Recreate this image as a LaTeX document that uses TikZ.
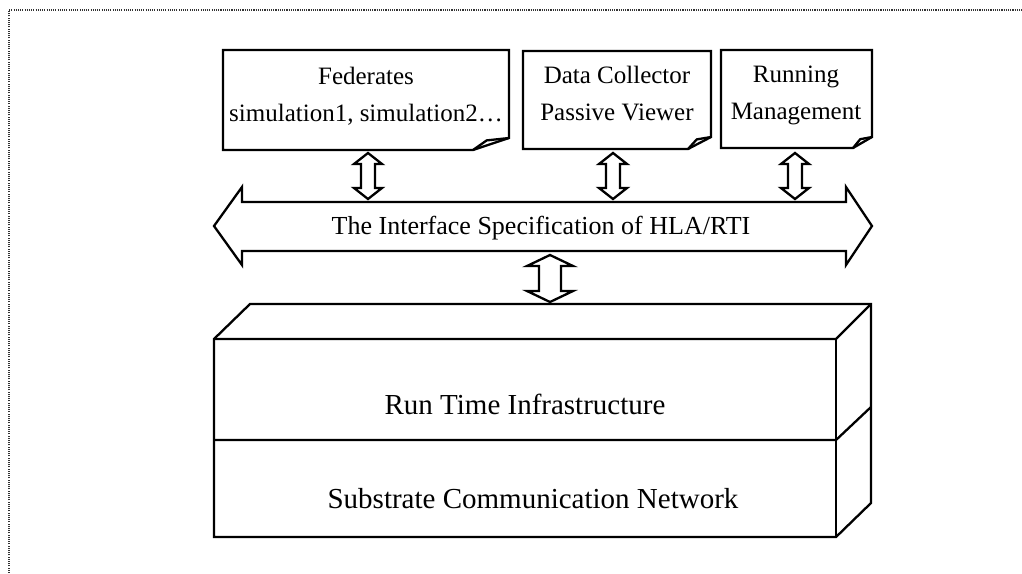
\documentclass[tikz,border=0pt]{standalone}
\usepackage{fontspec}
\setmainfont{Liberation Serif}
\begin{document}
\begin{tikzpicture}[x=1pt,y=-1pt,
  edge/.style={draw=black,line width=2.3pt,line join=miter},
  outline/.style={edge,fill=white},
  frameline/.style={draw=black!80,line width=1.5pt,dash pattern=on 1.1pt off 1.1pt},
  boxtext/.style={align=center,font=\fontsize{25}{37}\selectfont,inner sep=0pt},
  bandtext/.style={font=\fontsize{26}{30}\selectfont,inner sep=0pt},
  layertext/.style={font=\fontsize{29}{34}\selectfont,inner sep=0pt}]
\useasboundingbox (0,0) rectangle (1022,573);

% page frame (top and left edges)
\draw[frameline] (9,573) -- (9,10) -- (1022,10);

% note box with a folded lower-right corner: #1 left, #2 top, #3 right, #4 bottom, #5 fold x, #6 fold y
\newcommand\notebox[6]{%
  \draw[outline] (#1,#2) -- (#3,#2) -- (#3,#6) -- (#5,#4) -- (#1,#4) -- cycle;
  \draw[edge] (#5,#4) -- ({#5+0.38*(#3-#5)},{#6+0.2*(#4-#6)}) -- (#3,#6);}

% vertical double arrow: #1 centre x, #2 top, #3 bottom, #4 head half width, #5 shaft half width, #6 head length
\newcommand\vdarrow[6]{%
  \draw[outline] (#1,#2) -- ({#1+#4},{#2+#6}) -- ({#1+#5},{#2+#6}) -- ({#1+#5},{#3-#6})
    -- ({#1+#4},{#3-#6}) -- (#1,#3) -- ({#1-#4},{#3-#6}) -- ({#1-#5},{#3-#6})
    -- ({#1-#5},{#2+#6}) -- ({#1-#4},{#2+#6}) -- cycle;}

% application boxes
\notebox{223}{50}{509}{150}{473}{138}
\node[boxtext] (fed) at (366,96) {Federates\\simulation1, simulation2…};
\notebox{523}{51}{711}{149}{688}{137}
\node[boxtext] (dc) at (617,94) {Data Collector\\Passive Viewer};
\notebox{721}{50}{872}{148}{853}{137}
\node[boxtext] (rm) at (796,95) {Running\\Management};

% links between the boxes and the interface band
\vdarrow{368}{153}{199}{14}{7}{11}
\vdarrow{613}{153}{199}{14}{7}{11}
\vdarrow{795}{153}{199}{14}{7}{11}

% interface band
\draw[outline] (214,226) -- (242,187) -- (242,202) -- (846,202) -- (846,187) -- (872,226)
  -- (846,265) -- (846,251) -- (242,251) -- (242,265) -- cycle;
\node[bandtext] (hla) at (541,228) {The Interface Specification of HLA/RTI};

% link between the band and the layered block
\vdarrow{550}{255}{302}{23}{11}{11}

% layered block
\draw[outline] (214,339) -- (250,304) -- (871,304) -- (871,503) -- (836,537) -- (214,537) -- cycle;
\draw[edge] (214,339) -- (836,339) -- (871,304);
\draw[edge] (836,339) -- (836,537);
\draw[edge] (214,440) -- (836,440) -- (871,407);
\node[layertext] (rti) at (525,404) {Run Time Infrastructure};
\node[layertext] (scn) at (533,499) {Substrate Communication Network};
\end{tikzpicture}
\end{document}
